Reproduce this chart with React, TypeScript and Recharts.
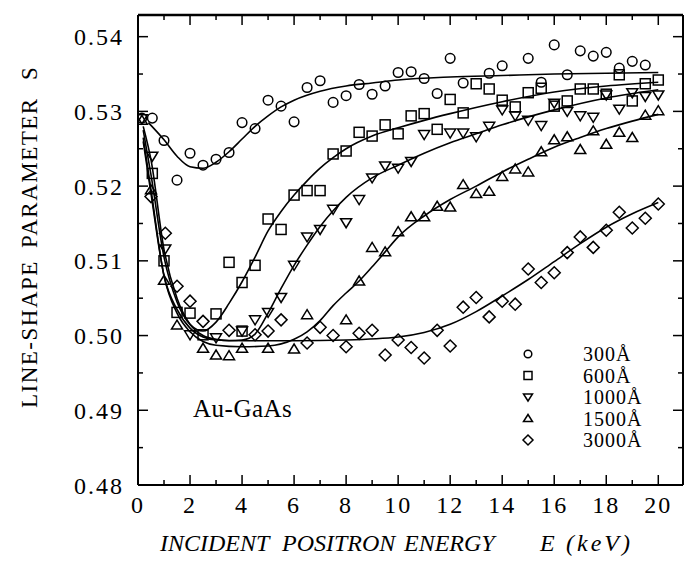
import React from "react";
import { ComposedChart, Line, Scatter, XAxis, YAxis, ReferenceLine } from "recharts";

// measured points, [E (keV), S]
const s300: [number, number][] = [
  [0.15, 0.5291], [0.55, 0.5291], [1.0, 0.5261], [1.5, 0.5208], [2.0, 0.5244], [2.5, 0.5228],
  [3.0, 0.5236], [3.5, 0.5245], [4.0, 0.5285], [4.5, 0.5277], [5.0, 0.5315], [5.5, 0.5307],
  [6.0, 0.5286], [6.5, 0.5332], [7.0, 0.5341], [7.5, 0.5312], [8.0, 0.5321], [8.5, 0.5336],
  [9.0, 0.5323], [9.5, 0.5334], [10.0, 0.5352], [10.5, 0.5353], [11.0, 0.5344], [11.5, 0.5324],
  [12.0, 0.5371], [12.5, 0.5338], [13.5, 0.5351], [14.0, 0.5361], [15.0, 0.5371], [15.5, 0.5339],
  [16.0, 0.5389], [16.5, 0.5349], [17.0, 0.5381], [17.5, 0.5374], [18.0, 0.5379], [18.5, 0.5358],
  [19.0, 0.5367], [19.5, 0.5362],
];
const s600: [number, number][] = [
  [0.55, 0.5217], [1.0, 0.51], [1.5, 0.5031], [2.0, 0.503], [2.5, 0.5001], [3.0, 0.5029],
  [3.5, 0.5098], [4.0, 0.5071], [4.0, 0.5006], [4.5, 0.5094], [5.0, 0.5156], [5.5, 0.5142],
  [6.0, 0.5188], [6.5, 0.5194], [7.0, 0.5194], [7.5, 0.5243], [8.0, 0.5247], [8.5, 0.5272],
  [9.0, 0.5267], [9.5, 0.5282], [10.0, 0.527], [10.5, 0.5294], [11.0, 0.5297], [11.5, 0.5276],
  [12.0, 0.5316], [12.5, 0.5298], [13.0, 0.5337], [13.5, 0.533], [14.0, 0.5315], [14.5, 0.5306],
  [15.0, 0.5325], [15.5, 0.5331], [16.0, 0.5307], [16.5, 0.5314], [17.0, 0.533], [17.5, 0.533],
  [18.0, 0.5323], [18.5, 0.5349], [19.0, 0.5314], [19.5, 0.5337], [20.0, 0.5342],
];
const s1000: [number, number][] = [
  [0.15, 0.529], [0.55, 0.524], [1.05, 0.5116], [2.0, 0.5001], [3.0, 0.4997], [4.0, 0.5006],
  [4.5, 0.5021], [5.0, 0.5031], [5.5, 0.5051], [6.0, 0.5094], [6.5, 0.5132], [7.0, 0.5142],
  [7.5, 0.5169], [8.0, 0.5151], [8.5, 0.5182], [9.0, 0.5211], [9.5, 0.5227], [10.0, 0.5224],
  [10.5, 0.5233], [11.0, 0.5269], [12.0, 0.5271], [12.5, 0.5271], [13.0, 0.5266], [13.5, 0.528],
  [14.0, 0.5302], [14.5, 0.5294], [15.0, 0.5288], [15.5, 0.5281], [16.0, 0.5311], [16.5, 0.53],
  [17.0, 0.5294], [17.5, 0.5292], [18.0, 0.5322], [18.5, 0.5303], [19.0, 0.5325], [19.5, 0.532],
  [20.0, 0.5322],
];
const s1500: [number, number][] = [
  [0.15, 0.5288], [0.5, 0.5195], [1.0, 0.5074], [1.5, 0.5014], [2.5, 0.4983], [3.0, 0.4974],
  [3.5, 0.4973], [4.0, 0.4983], [5.0, 0.4983], [6.0, 0.4982], [6.5, 0.5028], [8.0, 0.5021],
  [8.5, 0.5073], [9.0, 0.5118], [9.5, 0.5112], [10.0, 0.5139], [10.5, 0.5159], [11.0, 0.5159],
  [11.5, 0.5173], [12.0, 0.5172], [12.5, 0.5202], [13.0, 0.519], [13.5, 0.5193], [14.0, 0.5213],
  [14.5, 0.5223], [15.0, 0.5219], [15.5, 0.5246], [16.0, 0.5262], [16.5, 0.5266], [17.0, 0.5249],
  [17.5, 0.5274], [18.0, 0.5256], [18.5, 0.5272], [19.0, 0.5265], [19.5, 0.5295], [20.0, 0.5301],
];
const s3000: [number, number][] = [
  [0.5, 0.5186], [1.05, 0.5137], [1.5, 0.5066], [2.0, 0.5046], [2.5, 0.5019], [3.5, 0.5007],
  [4.5, 0.5001], [5.0, 0.5006], [5.5, 0.5021], [6.5, 0.499], [7.0, 0.5011], [7.5, 0.5],
  [8.0, 0.4985], [8.5, 0.5003], [9.0, 0.5007], [9.5, 0.4974], [10.0, 0.4994], [10.5, 0.4984],
  [11.0, 0.497], [11.5, 0.5007], [12.0, 0.4986], [12.5, 0.5038], [13.0, 0.5051], [13.5, 0.5025],
  [14.0, 0.5046], [14.5, 0.5042], [15.0, 0.5089], [15.5, 0.5071], [16.0, 0.5084], [16.5, 0.5111],
  [17.0, 0.5132], [17.5, 0.5118], [18.0, 0.5141], [18.5, 0.5165], [19.0, 0.5144], [19.5, 0.5157],
  [20.0, 0.5176],
];

// fitted curves
const fit300: [number, number][] = [
  [0.4, 0.5285], [1, 0.5262], [1.5, 0.524], [2, 0.5226], [2.5, 0.5224], [3, 0.5232], [3.5, 0.5246],
  [4, 0.5263], [4.5, 0.528], [5, 0.5294], [5.5, 0.5306], [6, 0.5315], [7, 0.5327], [8, 0.5334],
  [9, 0.5338], [10, 0.5342], [12, 0.5346], [14, 0.5348], [16, 0.535], [18, 0.5351], [20, 0.5352],
];
const fit600: [number, number][] = [
  [0.2, 0.5275], [0.5, 0.5215], [1, 0.5105], [1.5, 0.5045], [2, 0.5015], [2.5, 0.5006], [3, 0.5018],
  [3.5, 0.5043], [4, 0.5072], [4.5, 0.5105], [5, 0.514], [5.5, 0.5166], [6, 0.5188], [6.5, 0.5207],
  [7, 0.5224], [7.5, 0.5238], [8, 0.525], [9, 0.5267], [10, 0.5278], [11, 0.5288], [12, 0.5297],
  [14, 0.5313], [16, 0.5326], [18, 0.5334], [20, 0.5339],
];
const fit1000: [number, number][] = [
  [0.2, 0.528], [0.5, 0.5235], [1, 0.5115], [1.5, 0.505], [2, 0.5015], [2.5, 0.5], [3, 0.4995],
  [3.5, 0.4993], [4, 0.4994], [4.5, 0.5002], [5, 0.503], [5.5, 0.5063], [6, 0.5094], [6.5, 0.5121],
  [7, 0.5146], [7.5, 0.5167], [8, 0.5185], [9, 0.5211], [10, 0.5228], [11, 0.5244], [12, 0.5258],
  [13, 0.527], [14, 0.5282], [16, 0.5302], [18, 0.5318], [20, 0.5329],
];
const fit1500: [number, number][] = [
  [0.2, 0.5265], [0.5, 0.5195], [1, 0.508], [1.5, 0.503], [2, 0.5005], [2.5, 0.4992], [3, 0.4987],
  [4, 0.4985], [5, 0.4986], [6, 0.4995], [6.5, 0.5005], [7, 0.502], [7.5, 0.504], [8, 0.5057],
  [8.5, 0.5073], [9, 0.5092], [9.5, 0.5112], [10, 0.5132], [11, 0.516], [12, 0.5182], [13, 0.52],
  [14, 0.5219], [15, 0.5236], [16, 0.5252], [17, 0.5265], [18, 0.5277], [19, 0.5287], [20, 0.5296],
];
const fit3000: [number, number][] = [
  [0.2, 0.526], [0.5, 0.519], [1, 0.508], [1.5, 0.5035], [2, 0.501], [2.5, 0.4998], [3, 0.4994],
  [4, 0.4993], [6, 0.4993], [8, 0.4994], [10, 0.4998], [11, 0.5004], [12, 0.5015], [13, 0.5032],
  [14, 0.5053], [15, 0.5075], [16, 0.5099], [17, 0.5123], [18, 0.5145], [19, 0.5163], [20, 0.5178],
];

const legendLabels = ["300Å", "600Å", "1000Å", "1500Å", "3000Å"];
const xTicks = [0, 2, 4, 6, 8, 10, 12, 14, 16, 18, 20];
const xMinor = [1, 3, 5, 7, 9, 11, 13, 15, 17, 19];
const yTicks = [0.48, 0.49, 0.5, 0.51, 0.52, 0.53, 0.54];
const yMinor = [0.485, 0.495, 0.505, 0.515, 0.525, 0.535];

const X_MAX = 20.95;
const Y_MIN = 0.48;
const Y_MAX = 0.5429;
const SERIF = "'Liberation Serif', 'DejaVu Serif', serif";

type Kind = "circle" | "square" | "down" | "up" | "diamond";
const kinds: Kind[] = ["circle", "square", "down", "up", "diamond"];

function Marker({ kind, cx, cy, r = 5 }: { kind: Kind; cx: number; cy: number; r?: number }) {
  const st = { fill: "none", stroke: "#000", strokeWidth: 1.5 };
  if (kind === "circle") return <circle cx={cx} cy={cy} r={r - 0.2} {...st} />;
  if (kind === "square") return <rect x={cx - r} y={cy - r} width={2 * r} height={2 * r} {...st} />;
  if (kind === "down")
    return <polygon points={`${cx - r - 0.5},${cy - r + 1} ${cx + r + 0.5},${cy - r + 1} ${cx},${cy + r}`} {...st} />;
  if (kind === "up")
    return <polygon points={`${cx - r - 0.5},${cy + r - 1} ${cx + r + 0.5},${cy + r - 1} ${cx},${cy - r}`} {...st} />;
  const d = r + 1;
  return <polygon points={`${cx - d},${cy} ${cx},${cy - d} ${cx + d},${cy} ${cx},${cy + d}`} {...st} />;
}

const toPts = (a: [number, number][]) => a.map(([E, S]) => ({ E, S }));
const series = [s300, s600, s1000, s1500, s3000];
const fits = [fit300, fit600, fit1000, fit1500, fit3000];

const xLen = (px: number) => px / 26;
const yLen = (px: number) => (px / 470) * (Y_MAX - Y_MIN);

export default function App() {
  const tickSegs: [number, number, number, number][] = [];
  xTicks.forEach((e) => {
    tickSegs.push([e, Y_MIN, e, Y_MIN + yLen(10)]);
    tickSegs.push([e, Y_MAX, e, Y_MAX - yLen(10)]);
  });
  xMinor.forEach((e) => {
    tickSegs.push([e, Y_MIN, e, Y_MIN + yLen(5)]);
    tickSegs.push([e, Y_MAX, e, Y_MAX - yLen(5)]);
  });
  yTicks.forEach((s) => {
    tickSegs.push([0, s, xLen(10), s]);
    tickSegs.push([X_MAX, s, X_MAX - xLen(10), s]);
  });
  yMinor.forEach((s) => {
    tickSegs.push([0, s, xLen(5), s]);
    tickSegs.push([X_MAX, s, X_MAX - xLen(5), s]);
  });

  const tickFont = { fill: "#000", fontSize: 24, fontFamily: SERIF, letterSpacing: 2 };

  return (
    <div style={{ position: "absolute", left: 0, top: 0, width: 684, height: 562, background: "#fff" }}>
      <ComposedChart width={684} height={562} margin={{ top: 15, right: 1, bottom: 27, left: 0 }}>
        <XAxis
          type="number"
          dataKey="E"
          domain={[0, X_MAX]}
          ticks={xTicks}
          allowDataOverflow
          height={50}
          tickSize={0}
          tickMargin={11}
          axisLine={{ stroke: "#000", strokeWidth: 2 }}
          tick={tickFont}
        />
        <YAxis
          type="number"
          dataKey="S"
          domain={[Y_MIN, Y_MAX]}
          ticks={yTicks}
          allowDataOverflow
          width={138}
          tickSize={0}
          tickMargin={14}
          axisLine={{ stroke: "#000", strokeWidth: 2 }}
          tickFormatter={(v: number) => v.toFixed(2)}
          tick={tickFont}
        />
        <ReferenceLine y={Y_MAX} stroke="#000" strokeWidth={2.5} />
        <ReferenceLine x={X_MAX} stroke="#000" strokeWidth={2} />
        {tickSegs.map(([x1, y1, x2, y2], i) => (
          <ReferenceLine
            key={"t" + i}
            segment={[{ x: x1, y: y1 }, { x: x2, y: y2 }]}
            stroke="#000"
            strokeWidth={1.5}
          />
        ))}
        {fits.map((f, i) => (
          <Line
            key={"f" + i}
            data={toPts(f)}
            dataKey="S"
            type="monotone"
            stroke="#000"
            strokeWidth={1.6}
            dot={false}
            activeDot={false}
            isAnimationActive={false}
          />
        ))}
        {series.map((s, i) => (
          <Scatter
            key={"s" + i}
            data={toPts(s)}
            dataKey="S"
            isAnimationActive={false}
            shape={(p: any) => <Marker kind={kinds[i]} cx={p.cx} cy={p.cy} />}
          />
        ))}
      </ComposedChart>
      <svg
        width={684}
        height={562}
        style={{ position: "absolute", left: 0, top: 0, pointerEvents: "none" }}
        fontFamily={SERIF}
      >
        {legendLabels.map((lab, i) => (
          <g key={lab}>
            <Marker kind={kinds[i]} cx={528} cy={354 + i * 21.5} r={4} />
            <text x={583} y={354 + i * 21.5} dy="0.35em" fontSize={20} letterSpacing={1}>
              {lab}
            </text>
          </g>
        ))}
        <text x={193} y={408} dy="0.35em" fontSize={25} letterSpacing={0.5}>
          Au-GaAs
        </text>
        <g fontSize={24} fontStyle="italic">
          <text x={160} y={543} dy="0.35em">INCIDENT</text>
          <text x={282} y={543} dy="0.35em">POSITRON</text>
          <text x={404} y={543} dy="0.35em">ENERGY</text>
          <text x={540} y={543} dy="0.35em">E</text>
          <text x={566} y={543} dy="0.35em" letterSpacing={3}>(keV)</text>
        </g>
        <g fontSize={23} transform="translate(29,0) rotate(-90)">
          <text x={-408} y={0} dy="0.35em" letterSpacing={1.5}>LINE-SHAPE</text>
          <text x={-248} y={0} dy="0.35em" letterSpacing={1.5}>PARAMETER</text>
          <text x={-80} y={0} dy="0.35em">S</text>
        </g>
      </svg>
    </div>
  );
}
